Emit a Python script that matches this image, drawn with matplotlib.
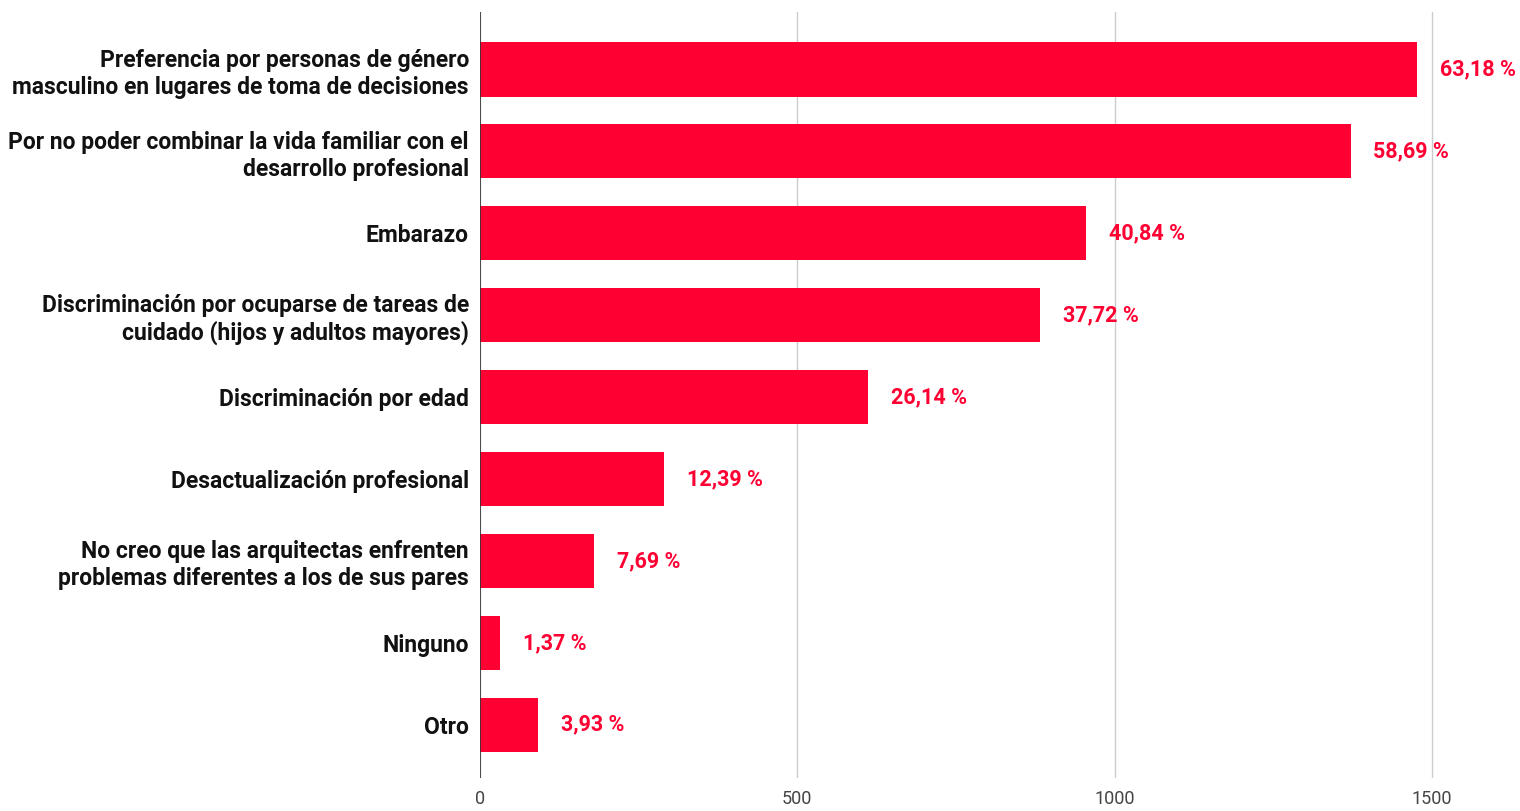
import matplotlib
matplotlib.use("Agg")
import matplotlib.pyplot as plt

plt.rcParams['font.family'] = ['Roboto', 'DejaVu Sans']

categories = [
    "Preferencia por personas de género\nmasculino en lugares de toma de decisiones",
    "Por no poder combinar la vida familiar con el\ndesarrollo profesional",
    "Embarazo",
    "Discriminación por ocuparse de tareas de\ncuidado (hijos y adultos mayores)",
    "Discriminación por edad",
    "Desactualización profesional",
    "No creo que las arquitectas enfrenten\nproblemas diferentes a los de sus pares",
    "Ninguno",
    "Otro",
]
counts = [1477, 1372, 955, 882, 611, 290, 180, 32, 92]
percent_labels = ["63,18 %", "58,69 %", "40,84 %", "37,72 %", "26,14 %",
                  "12,39 %", "7,69 %", "1,37 %", "3,93 %"]
xticks = [0, 500, 1000, 1500]

RED = "#ff0033"

fig = plt.figure(figsize=(15.2, 8.11), dpi=100)
ax = fig.add_axes([0.3158, 0.0407, 0.6809, 0.9443])

ypos = list(range(len(categories)))
ax.barh(ypos, counts, height=0.66, color=RED, zorder=3)

for y, v, lab in zip(ypos, counts, percent_labels):
    ax.text(v + 36, y, lab, va='center', ha='left', color=RED,
            fontsize=15.5, fontweight='bold', zorder=4)

ax.set_yticks(ypos)
ax.set_yticklabels(categories, fontsize=16.5, fontweight='bold', color='#111111',
                   linespacing=1.2)
ax.set_ylim(8.65, -0.7)
ax.set_xlim(0, 1631)
ax.set_xticks(xticks)
ax.set_xticklabels([str(t) for t in xticks], fontsize=13, color='#444444')

ax.grid(axis='x', color='#cccccc', linewidth=1, zorder=0)
ax.axvline(0, color='#333333', linewidth=1.2, zorder=5)
for s in ax.spines.values():
    s.set_visible(False)
ax.tick_params(axis='both', length=0)
ax.tick_params(axis='y', pad=8)
ax.tick_params(axis='x', pad=9)

fig.savefig("out.png", dpi=100)
